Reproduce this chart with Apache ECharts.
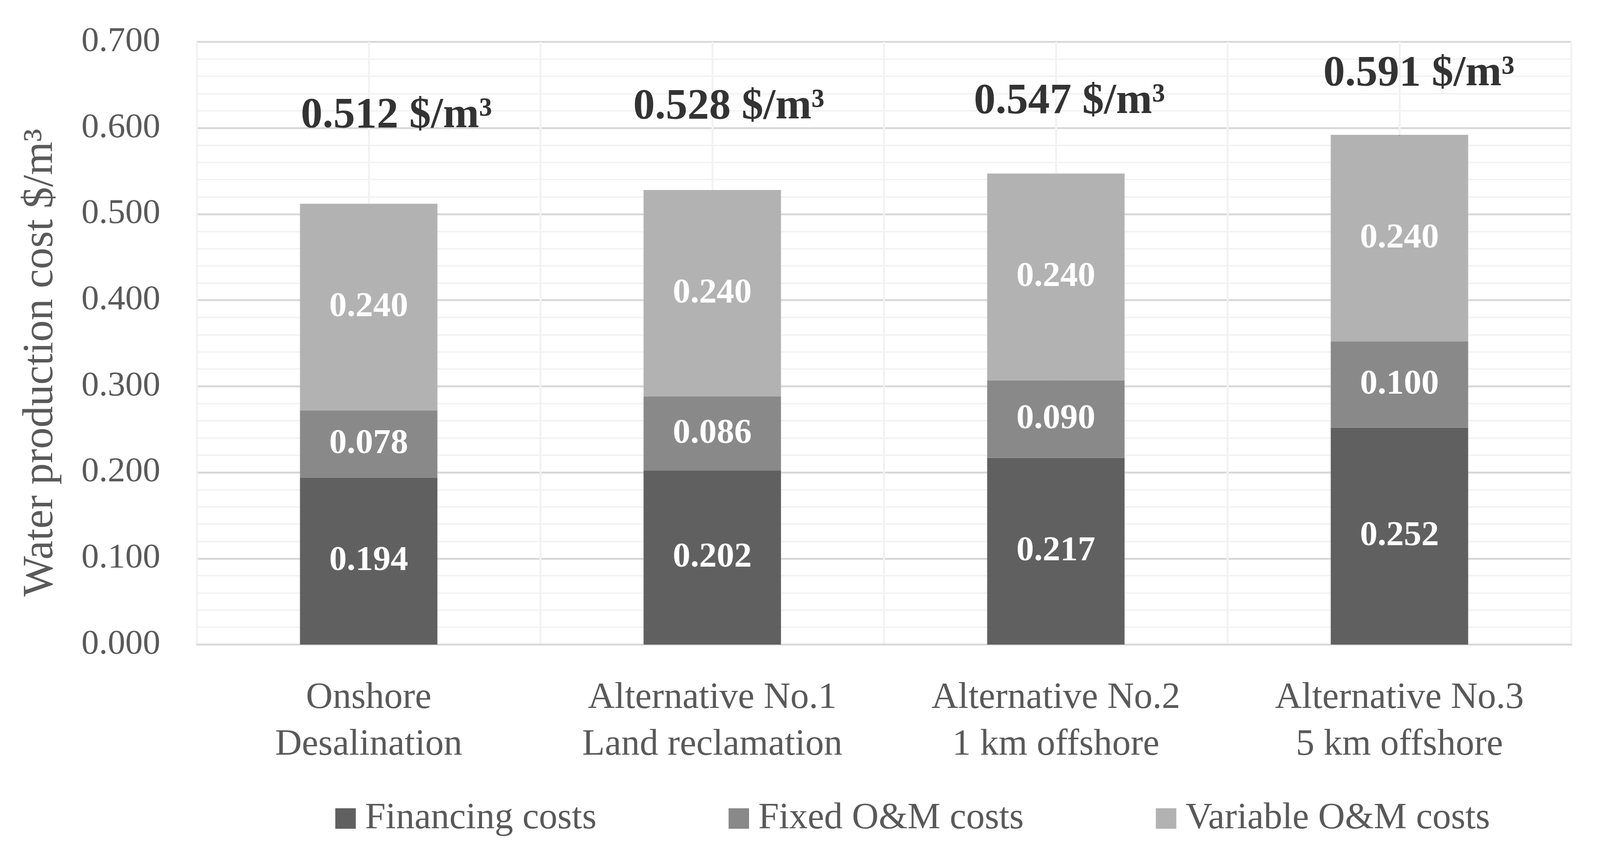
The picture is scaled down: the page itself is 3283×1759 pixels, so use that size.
<!DOCTYPE html>
<html><head><meta charset="utf-8">
<script src="https://cdn.jsdelivr.net/npm/echarts@6/dist/echarts.min.js"></script>
<style>html,body{margin:0;padding:0;background:#fff}#c{width:3283px;height:1759px}</style>
</head><body><div id="c"></div>
<script>
// ---- data ----
const categories = ['Onshore\nDesalination', 'Alternative No.1\nLand reclamation', 'Alternative No.2\n1 km offshore', 'Alternative No.3\n5 km offshore'];
const seriesNames = ['Financing costs', 'Fixed O&M costs', 'Variable O&M costs'];
const financing = [0.194, 0.202, 0.217, 0.252];
const fixedOM = [0.078, 0.086, 0.090, 0.100];
const variableOM = [0.240, 0.240, 0.240, 0.240];
const totals = [0.512, 0.528, 0.547, 0.591];
const yAxisName = 'Water production cost $/m³';
const totalUnit = ' $/m³';

// ---- style ----
const totalLabelOffsets = [[57, -180], [34, -170], [28, -147], [40, -127]];
const colors = ['#606060', '#898989', '#b2b2b2'];
const FONT = '"Liberation Serif", "Times New Roman", serif';
const TXT = '#595959';

const chart = echarts.init(document.getElementById('c'), null, {renderer: 'canvas'});

const innerLabel = {
  show: true, position: 'inside', color: '#ffffff', fontFamily: FONT,
  fontWeight: 'bold', fontSize: 72,
  formatter: p => p.value.toFixed(3)
};

const mkBar = (name, data, color) => ({
  name, type: 'bar', stack: 'cost', data, barWidth: '40%',
  xAxisIndex: 0, yAxisIndex: 0,
  itemStyle: {color}, label: innerLabel, z: 3
});

chart.setOption({
  animation: false,
  backgroundColor: '#ffffff',
  grid: {left: 404, right: 59, top: 86, bottom: 436, containLabel: false},
  legend: {
    data: seriesNames, left: 683, top: 1637, icon: 'rect',
    itemWidth: 42, itemHeight: 42, itemGap: 271, selectedMode: false,
    textStyle: {fontFamily: FONT, fontSize: 76, color: TXT, padding: [0, 0, 0, 14]}
  },
  xAxis: [{
    type: 'category', data: categories, position: 'bottom',
    axisLine: {show: true, lineStyle: {color: '#d9d9d9', width: 4}},
    axisTick: {show: false},
    splitLine: {show: false},
    axisLabel: {fontFamily: FONT, fontSize: 76, color: TXT, lineHeight: 96, margin: 62, interval: 0}
  }, {
    type: 'value', min: 0, max: 8, interval: 1, position: 'bottom',
    axisLine: {show: false}, axisTick: {show: false}, axisLabel: {show: false},
    splitLine: {show: true, lineStyle: {color: '#f2f2f2', width: 4}}
  }],
  yAxis: {
    type: 'value', min: 0, max: 0.7, interval: 0.1,
    name: yAxisName, nameLocation: 'middle', nameGap: 276,
    nameTextStyle: {fontFamily: FONT, fontSize: 88, color: TXT, padding: [0, 80, 0, 0]},
    axisLine: {show: false}, axisTick: {show: false},
    axisLabel: {fontFamily: FONT, fontSize: 72, color: TXT, margin: 75, formatter: v => v.toFixed(3)},
    splitLine: {show: true, lineStyle: {color: '#d9d9d9', width: 4}},
    minorTick: {show: false, splitNumber: 5},
    minorSplitLine: {show: true, lineStyle: {color: '#f2f2f2', width: 3}}
  },
  series: [
    mkBar(seriesNames[0], financing, colors[0]),
    mkBar(seriesNames[1], fixedOM, colors[1]),
    mkBar(seriesNames[2], variableOM, colors[2]),
    {
      name: 'Total', type: 'scatter', xAxisIndex: 0, yAxisIndex: 0,
      symbolSize: 0, z: 5,
      data: totals.map((v, i) => ({value: [i, v], label: {offset: totalLabelOffsets[i]}})),
      label: {
        show: true, position: 'inside', color: '#000000', fontFamily: FONT,
        fontWeight: 'bold', fontSize: 89,
        formatter: p => totals[p.dataIndex].toFixed(3) + totalUnit
      }
    }
  ]
});
</script></body></html>
